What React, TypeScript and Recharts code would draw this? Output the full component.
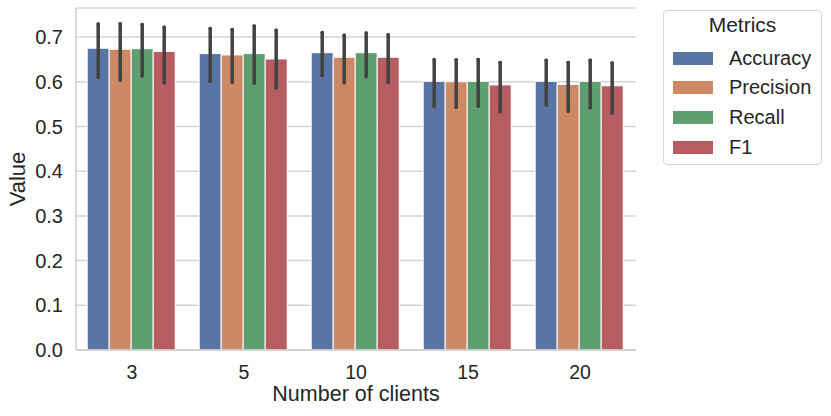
import React from 'react';
import { BarChart, Bar, XAxis, YAxis, CartesianGrid, ErrorBar, Legend } from 'recharts';

const CLIENTS = ['3', '5', '10', '15', '20'];
const VALUE_TICKS = [0, 0.1, 0.2, 0.3, 0.4, 0.5, 0.6, 0.7];

const ACCURACY = [0.675, 0.663, 0.665, 0.601, 0.601];
const PRECISION = [0.673, 0.66, 0.655, 0.6, 0.594];
const RECALL = [0.674, 0.663, 0.665, 0.601, 0.601];
const F1 = [0.668, 0.651, 0.655, 0.593, 0.591];

// confidence interval ends (low / high)
const ACCURACY_LOW = [0.61, 0.601, 0.614, 0.545, 0.548];
const ACCURACY_HIGH = [0.729, 0.719, 0.71, 0.649, 0.648];
const PRECISION_LOW = [0.604, 0.599, 0.598, 0.543, 0.534];
const PRECISION_HIGH = [0.73, 0.717, 0.704, 0.649, 0.643];
const RECALL_LOW = [0.613, 0.597, 0.612, 0.545, 0.542];
const RECALL_HIGH = [0.728, 0.725, 0.709, 0.65, 0.648];
const F1_LOW = [0.598, 0.586, 0.599, 0.533, 0.53];
const F1_HIGH = [0.722, 0.715, 0.705, 0.643, 0.642];

const SERIES = [
  { key: 'Accuracy', values: ACCURACY, low: ACCURACY_LOW, high: ACCURACY_HIGH, color: '#5975a4' },
  { key: 'Precision', values: PRECISION, low: PRECISION_LOW, high: PRECISION_HIGH, color: '#cc8963' },
  { key: 'Recall', values: RECALL, low: RECALL_LOW, high: RECALL_HIGH, color: '#5f9e6e' },
  { key: 'F1', values: F1, low: F1_LOW, high: F1_HIGH, color: '#b55d60' },
];

const data = CLIENTS.map((c, i) => {
  const row: Record<string, any> = { clients: c };
  SERIES.forEach((s) => {
    row[s.key] = s.values[i];
    row[s.key + 'Err'] = [s.values[i] - s.low[i], s.high[i] - s.values[i]];
  });
  return row;
});

const FONT = '"Liberation Sans", Arial, sans-serif';
const TEXT = '#262626';

function renderLegend() {
  return (
    <div
      style={{
        width: 157,
        height: 153,
        border: '1px solid #d6d6d6',
        borderRadius: 4,
        background: '#fff',
        fontFamily: FONT,
        color: TEXT,
        position: 'relative',
      }}
    >
      <div style={{ position: 'absolute', top: 2, left: 0, width: '100%', textAlign: 'center', fontSize: 21 }}>
        Metrics
      </div>
      {SERIES.map((s, i) => (
        <div key={s.key} style={{ position: 'absolute', left: 9, top: 36 + i * 29.7, height: 22, display: 'flex', alignItems: 'center' }}>
          <div style={{ width: 40, height: 13, background: s.color }} />
          <span style={{ marginLeft: 16, fontSize: 20 }}>{s.key}</span>
        </div>
      ))}
    </div>
  );
}

export default function App() {
  return (
    <div style={{ position: 'absolute', left: 0, top: 0, width: 831, height: 416, background: '#fff' }}>
      <BarChart
        width={831}
        height={416}
        data={data}
        margin={{ top: 8, right: 195, left: 0, bottom: 0 }}
        barCategoryGap="10%"
        barGap={0}
      >
        <CartesianGrid vertical={false} stroke="#d4d4d4" strokeWidth={1.5} />
        <XAxis
          dataKey="clients"
          height={66}
          axisLine={{ stroke: '#cccccc', strokeWidth: 1.5 }}
          tickLine={false}
          tickSize={6}
          tickMargin={9}
          tick={{ fill: TEXT, fontSize: 19.5, fontFamily: FONT }}
          label={{
            content: ({ viewBox }: any) => (
              <text
                x={viewBox.x + viewBox.width / 2}
                y={401}
                textAnchor="middle"
                fill={TEXT}
                fontSize={21.5}
                fontFamily={FONT}
              >
                Number of clients
              </text>
            ),
          }}
        />
        <YAxis
          width={76}
          domain={[0, 0.765]}
          ticks={VALUE_TICKS}
          tickFormatter={(v: number) => v.toFixed(1)}
          axisLine={{ stroke: '#cccccc', strokeWidth: 1.5 }}
          tickLine={false}
          tickSize={6}
          tickMargin={7}
          tick={{ fill: TEXT, fontSize: 20, fontFamily: FONT }}
          label={{
            content: ({ viewBox }: any) => {
              const cy = viewBox.y + viewBox.height / 2;
              return (
                <text
                  x={25}
                  y={cy}
                  transform={`rotate(-90, 25, ${cy})`}
                  textAnchor="middle"
                  fill={TEXT}
                  fontSize={22}
                  fontFamily={FONT}
                >
                  Value
                </text>
              );
            },
          }}
        />
        <Legend
          layout="vertical"
          align="center"
          verticalAlign="middle"
          content={renderLegend}
          wrapperStyle={{ left: 663, top: 10, right: 'auto', bottom: 'auto', width: 159 }}
        />
        {SERIES.map((s) => (
          <Bar key={s.key} dataKey={s.key} fill={s.color} stroke="#ffffff" strokeWidth={1} isAnimationActive={false}>
            <ErrorBar
              dataKey={s.key + 'Err'}
              direction="y"
              width={0}
              stroke="#424242"
              strokeWidth={3.5}
              strokeLinecap="round"
            />
          </Bar>
        ))}
      </BarChart>
    </div>
  );
}
